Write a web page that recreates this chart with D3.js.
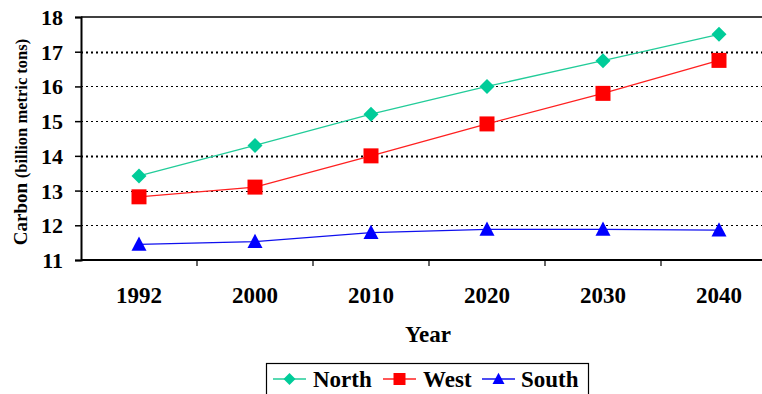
<!DOCTYPE html>
<html>
<head>
<meta charset="utf-8">
<script src="https://cdn.jsdelivr.net/npm/d3@7/dist/d3.min.js"></script>
<style>
  html, body { margin: 0; padding: 0; background: #fff; }
  svg { display: block; }
  svg text { font-family: "Liberation Serif", "Times New Roman", serif; font-weight: bold; fill: #000; }
</style>
</head>
<body>
<svg id="chart" width="762" height="394"></svg>
<script>
// Projected carbon by region
const years = ["1992", "2000", "2010", "2020", "2030", "2040"];
const north = [13.42, 14.3, 15.2, 16.0, 16.74, 17.5];
const west  = [12.82, 13.1, 14.0, 14.92, 15.8, 16.75];
const south = [11.45, 11.53, 11.79, 11.88, 11.88, 11.86];
const yTicks = [11, 12, 13, 14, 15, 16, 17, 18];
const seriesNames = ["North", "West", "South"];
const seriesColors = ["#00cc99", "#ff0000", "#0000ff"];

// marker outlines, r = half size in px
const shapes = {
  diamond: r => `M0,${-r}L${r},0L0,${r}L${-r},0Z`,
  square: r => `M${-r},${-r}H${r}V${r}H${-r}Z`,
  triangle: r => `M0,${-r * 1.05}L${r},${r * 0.85}L${-r},${r * 0.85}Z`
};

const series = [
  { name: seriesNames[0], values: north, color: seriesColors[0], shape: shapes.diamond, r: 7.5, lineColor: "#22cc99" },
  { name: seriesNames[1], values: west,  color: seriesColors[1], shape: shapes.square,  r: 7.5, lineColor: "#ff2020" },
  { name: seriesNames[2], values: south, color: seriesColors[2], shape: shapes.triangle, r: 7.5, lineColor: "#1010ee" }
];

const svg = d3.select("#chart");
const m = { left: 81, top: 17, right: 777, bottom: 260 };

const x = d3.scaleBand().domain(years).range([m.left, m.right]).padding(0);
const y = d3.scaleLinear().domain([11, 18]).range([m.bottom, m.top]);

// plot frame top edge
svg.append("line")
  .attr("x1", m.left).attr("x2", m.right)
  .attr("y1", y(18)).attr("y2", y(18))
  .attr("stroke", "#000").attr("stroke-width", 1.5);

// dotted gridlines
svg.append("g").selectAll("line")
  .data(yTicks.filter(t => t > 11 && t < 18))
  .join("line")
  .attr("x1", m.left).attr("x2", m.right)
  .attr("y1", d => Math.round(y(d)) + 0.5).attr("y2", d => Math.round(y(d)) + 0.5)
  .attr("stroke", "#000")
  .attr("stroke-width", d => (d === 17 || d === 14) ? 2 : 1.2)
  .attr("stroke-dasharray", "2,3");

// y axis
const yAxis = svg.append("g")
  .attr("transform", `translate(${m.left},0)`)
  .call(d3.axisLeft(y).tickValues(yTicks).tickSize(6).tickPadding(12).tickFormat(d3.format("d")));
yAxis.attr("font-family", null).attr("font-size", null);
yAxis.select(".domain").attr("stroke-width", 2);
yAxis.selectAll(".tick line").attr("stroke-width", 1.5);
yAxis.selectAll("text")
  .attr("font-size", 22)
  .attr("dy", "0.34em");

// x axis with ticks between categories
const xAxis = svg.append("g")
  .attr("transform", `translate(0,${m.bottom})`);
xAxis.append("line")
  .attr("x1", m.left).attr("x2", m.right)
  .attr("stroke", "#000").attr("stroke-width", 2);
xAxis.selectAll(".sep")
  .data(years.slice(1))
  .join("line")
  .attr("class", "sep")
  .attr("x1", d => x(d)).attr("x2", d => x(d))
  .attr("y1", 0).attr("y2", 6)
  .attr("stroke", "#000").attr("stroke-width", 1.2);
xAxis.selectAll("text")
  .data(years)
  .join("text")
  .attr("x", d => x(d) + x.bandwidth() / 2)
  .attr("y", 43)
  .attr("text-anchor", "middle")
  .attr("font-size", 23)
  .text(d => d);

// axis titles
svg.append("text")
  .attr("x", 428).attr("y", 342)
  .attr("text-anchor", "middle")
  .attr("font-size", 23)
  .text("Year");

const yt = svg.append("text")
  .attr("transform", "translate(27,142) rotate(-90)")
  .attr("text-anchor", "middle");
yt.append("tspan").attr("font-size", 19).text("Carbon ");
yt.append("tspan").attr("font-size", 16.5).text("(billion metric tons)");

// lines and markers
const line = d3.line()
  .x((d, i) => x(years[i]) + x.bandwidth() / 2)
  .y(d => y(d));

series.forEach(s => {
  svg.append("path")
    .datum(s.values)
    .attr("fill", "none")
    .attr("stroke", s.lineColor)
    .attr("stroke-width", 1.3)
    .attr("d", line);
  svg.append("g").selectAll("path")
    .data(s.values)
    .join("path")
    .attr("transform", (d, i) => `translate(${x(years[i]) + x.bandwidth() / 2},${y(d)})`)
    .attr("d", s.shape(s.r))
    .attr("fill", s.color);
});

// legend
const lg = svg.append("g");
lg.append("rect")
  .attr("x", 266.5).attr("y", 363.5).attr("width", 322).attr("height", 40)
  .attr("fill", "#fff").attr("stroke", "#000").attr("stroke-width", 1.2);
const lx = [273, 383, 482];
const textOff = [40, 40, 39];
series.forEach((s, i) => {
  const g = lg.append("g").attr("transform", `translate(${lx[i]},379)`);
  g.append("line").attr("x1", 0).attr("x2", 33).attr("stroke", s.lineColor).attr("stroke-width", 1.3);
  g.append("path").attr("transform", "translate(16.5,0)")
    .attr("d", s.shape(6))
    .attr("fill", s.color);
  g.append("text").attr("x", textOff[i]).attr("y", 7.5)
    .attr("font-size", 23)
    .text(s.name);
});
</script>
</body>
</html>
